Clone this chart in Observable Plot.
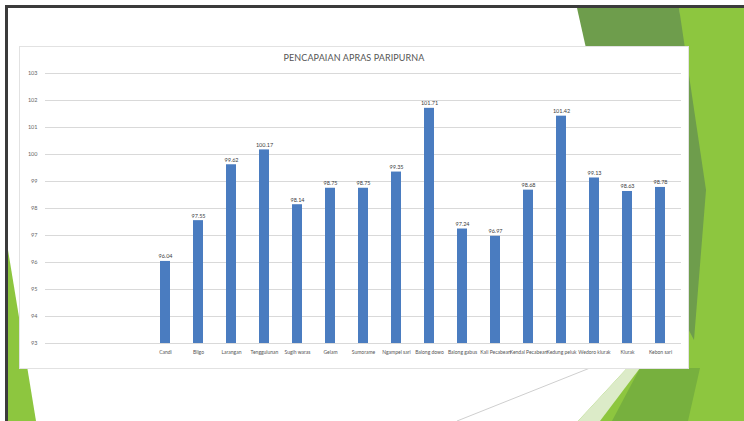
<!DOCTYPE html>
<html>
<head>
<meta charset="utf-8">
<script src="https://cdn.jsdelivr.net/npm/d3@7"></script>
<script src="https://cdn.jsdelivr.net/npm/@observablehq/plot@0.6"></script>
<style>
  html, body { margin: 0; padding: 0; background: #ffffff; }
  #slide { position: relative; width: 744px; height: 421px; overflow: hidden; background: #ffffff; font-family: Lato, "Open Sans", sans-serif; }
  .shape { position: absolute; left: 0; top: 0; width: 744px; height: 421px; }
  #frameTop { position: absolute; left: 5px; top: 5px; width: 739px; height: 3px; background: #3b3b3b; }
  #frameLeft { position: absolute; left: 5px; top: 5px; width: 3px; height: 416px; background: #3b3b3b; }
  #chartBox { position: absolute; left: 20px; top: 47px; width: 668px; height: 321px; background: #ffffff; box-shadow: 0 0 0 1px #e2e2e2; }
  #title { height: 20px; line-height: 22px; text-align: center; font-size: 9px; color: #555; letter-spacing: 0.1px; }
  #chartBox svg { display: block; }
</style>
</head>
<body>
<div id="slide">
  <div class="shape" style="background:#8dc63f; clip-path: polygon(679px 8px, 744px 8px, 744px 421px, 578px 421px, 690px 300px);"></div>
  <div class="shape" style="background:#6e9d4c; clip-path: polygon(577px 8px, 679px 8px, 706px 190px, 694px 340px, 620px 200px);"></div>
  <div class="shape" style="background:#77b03e; clip-path: polygon(640px 368px, 700px 368px, 688px 421px, 612px 421px);"></div>
  <div class="shape" style="background:#dcebc8; clip-path: polygon(578px 421px, 627px 368px, 640px 368px, 600px 421px);"></div>
  <div class="shape" style="background:#8dc63f; clip-path: polygon(8px 250px, 8px 421px, 36px 421px);"></div>
  <svg class="shape" width="744" height="421"><line x1="457" y1="421" x2="595" y2="366" stroke="#cfcfcf" stroke-width="1"/></svg>
  <div id="frameTop"></div>
  <div id="frameLeft"></div>
  <div id="chartBox">
    <div id="title">PENCAPAIAN APRAS PARIPURNA</div>
    <div id="plot"></div>
  </div>
</div>
<script>
const blankCategories = [" ", "  ", "   "];
const categories = ["Candi", "Bligo", "Larangan", "Tenggulunan", "Sugih waras", "Gelam", "Sumorame", "Ngampel sari", "Balong dowo", "Balong gabus", "Kali Pecabean", "Kendal Pecabean", "Kedung peluk", "Wedoro klurak", "Klurak", "Kebon sari"];
const values = [96.04, 97.55, 99.62, 100.17, 98.14, 98.75, 98.75, 99.35, 101.71, 97.24, 96.97, 98.68, 101.42, 99.13, 98.63, 98.78];
const valueLabels = ["96.04", "97.55", "99.62", "100.17", "98.14", "98.75", "98.75", "99.35", "101.71", "97.24", "96.97", "98.68", "101.42", "99.13", "98.63", "98.78"];
const yTicks = [93, 94, 95, 96, 97, 98, 99, 100, 101, 102, 103];

const data = categories.map((c, i) => ({category: c, value: values[i], label: valueLabels[i]}));
const yMin = yTicks[0];

const chart = Plot.plot({
  width: 668,
  height: 301,
  marginLeft: 25,
  marginRight: 7,
  marginTop: 6,
  marginBottom: 25,
  style: {fontFamily: "Lato, 'Open Sans', sans-serif", fontSize: "5px", color: "#666", background: "transparent"},
  x: {domain: [...blankCategories, ...categories], paddingInner: 0.69, paddingOuter: 0.345, label: null},
  y: {domain: [yTicks[0], yTicks[yTicks.length - 1]], label: null},
  marks: [
    Plot.gridY(yTicks, {stroke: "#d9d9d9", strokeOpacity: 1, strokeWidth: 1}),
    Plot.axisY(yTicks, {tickSize: 0, tickPadding: 8, tickFormat: d => String(d), fill: "#666", fontSize: 5.5, label: null}),
    Plot.axisX({tickSize: 0, tickPadding: 7, fill: "#555", label: null}),
    Plot.barY(data, {x: "category", y1: () => yMin, y2: "value", fill: "#4a7cc0"}),
    Plot.text(data, {x: "category", y: "value", text: "label", lineAnchor: "bottom", dy: -3, fill: "#404040", fontSize: 5.5})
  ]
});
document.getElementById("plot").appendChild(chart);
</script>
</body>
</html>
